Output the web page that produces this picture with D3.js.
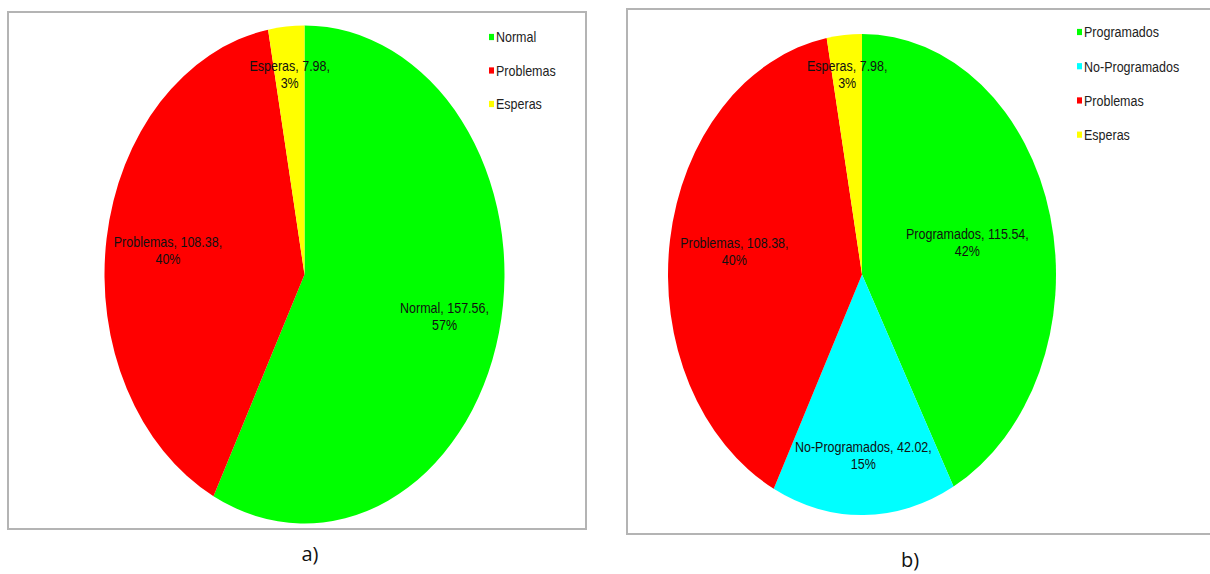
<!DOCTYPE html>
<html>
<head>
<meta charset="utf-8">
<script src="https://cdn.jsdelivr.net/npm/d3@7"></script>
<style>
  html, body { margin: 0; padding: 0; background: #ffffff; }
  svg { display: block; }
</style>
</head>
<body>
<svg id="chart" width="1210" height="574"></svg>
<script>
// ---- data ----
const categoriesA = ["Normal", "Problemas", "Esperas"];
const valuesA = [157.56, 108.38, 7.98];
const percentsA = ["57%", "40%", "3%"];

const categoriesB = ["Programados", "No-Programados", "Problemas", "Esperas"];
const valuesB = [115.54, 42.02, 108.38, 7.98];
const percentsB = ["42%", "15%", "40%", "3%"];

const panelTitles = ["a)", "b)"];

// ---- styling ----
const colorMap = {
  "Normal": "#00ff00",
  "Programados": "#00ff00",
  "No-Programados": "#00ffff",
  "Problemas": "#ff0000",
  "Esperas": "#ffff00"
};
const FONT = "'Liberation Sans', Arial, sans-serif";
const svg = d3.select("#chart");

function drawPanel(cfg) {
  const { cats, vals, pcts, box, cx, cy, r, k, labelR, legend, title } = cfg;

  // frame
  svg.append("rect")
    .attr("x", box[0]).attr("y", box[1])
    .attr("width", box[2] - box[0]).attr("height", box[3] - box[1])
    .attr("fill", "none").attr("stroke", "#b4b4b4").attr("stroke-width", 2);

  const data = cats.map((c, i) => ({ cat: c, value: vals[i], pct: pcts[i] }));
  const pie = d3.pie().value(d => d.value).sort(null);
  const arcs = pie(data);
  const arc = d3.arc().innerRadius(0).outerRadius(r);

  const g = svg.append("g").attr("transform", `translate(${cx},${cy}) scale(1,${k})`);

  g.selectAll("path.slice").data(arcs).enter().append("path")
    .attr("class", "slice")
    .attr("d", arc)
    .attr("fill", d => colorMap[d.data.cat]);

  // data labels
  const lab = g.selectAll("text.lbl").data(arcs).enter().append("text")
    .attr("class", "lbl")
    .attr("transform", (d, i) => {
      const rr = labelR[i] * r;
      const c = d3.arc().innerRadius(rr).outerRadius(rr).centroid(d);
      return `translate(${c[0]},${c[1]})`;
    })
    .attr("text-anchor", "middle")
    .attr("font-family", FONT)
    .attr("font-size", 12.5)
    .attr("fill", "#111");
  lab.append("tspan").attr("x", 0).attr("dy", "-0.2em")
    .text(d => `${d.data.cat}, ${d3.format(".2f")(d.data.value)},`);
  lab.append("tspan").attr("x", 0).attr("dy", "1.1em")
    .text(d => d.data.pct);

  // legend
  const lg = svg.append("g").attr("transform", `translate(${legend.x},${legend.y}) scale(1,${k})`);
  const yL = d3.scalePoint().domain(cats).range([0, legend.step * (cats.length - 1)]);
  const items = lg.selectAll("g.item").data(cats).enter().append("g")
    .attr("class", "item")
    .attr("transform", d => `translate(0,${yL(d)})`);
  items.append("rect")
    .attr("x", 0).attr("y", -2.5).attr("width", 5).attr("height", 5)
    .attr("fill", d => colorMap[d]);
  items.append("text")
    .attr("x", 7).attr("dy", "0.35em")
    .attr("font-family", FONT).attr("font-size", 12.5).attr("fill", "#222")
    .text(d => d);

  // panel title
  svg.append("text")
    .attr("x", title.x).attr("y", title.y)
    .attr("text-anchor", "middle")
    .attr("font-family", "'Open Sans', 'Noto Sans', sans-serif")
    .attr("font-size", 20).attr("fill", "#111")
    .text(title.text);
}

drawPanel({
  cats: categoriesA, vals: valuesA, pcts: percentsA,
  box: [8, 12, 586, 529],
  cx: 304.5, cy: 274.5, r: 200, k: 1.245,
  labelR: [0.72, 0.69, 0.81],
  legend: { x: 489, y: 37, step: 26.9 },
  title: { x: 310, y: 561, text: panelTitles[0] }
});

drawPanel({
  cats: categoriesB, vals: valuesB, pcts: percentsB,
  box: [627, 9, 1214, 534],
  cx: 862, cy: 274.5, r: 194, k: 1.24,
  labelR: [0.56, 0.75, 0.665, 0.835],
  legend: { x: 1077, y: 32, step: 27.6 },
  title: { x: 910, y: 567, text: panelTitles[1] }
});
</script>
</body>
</html>
